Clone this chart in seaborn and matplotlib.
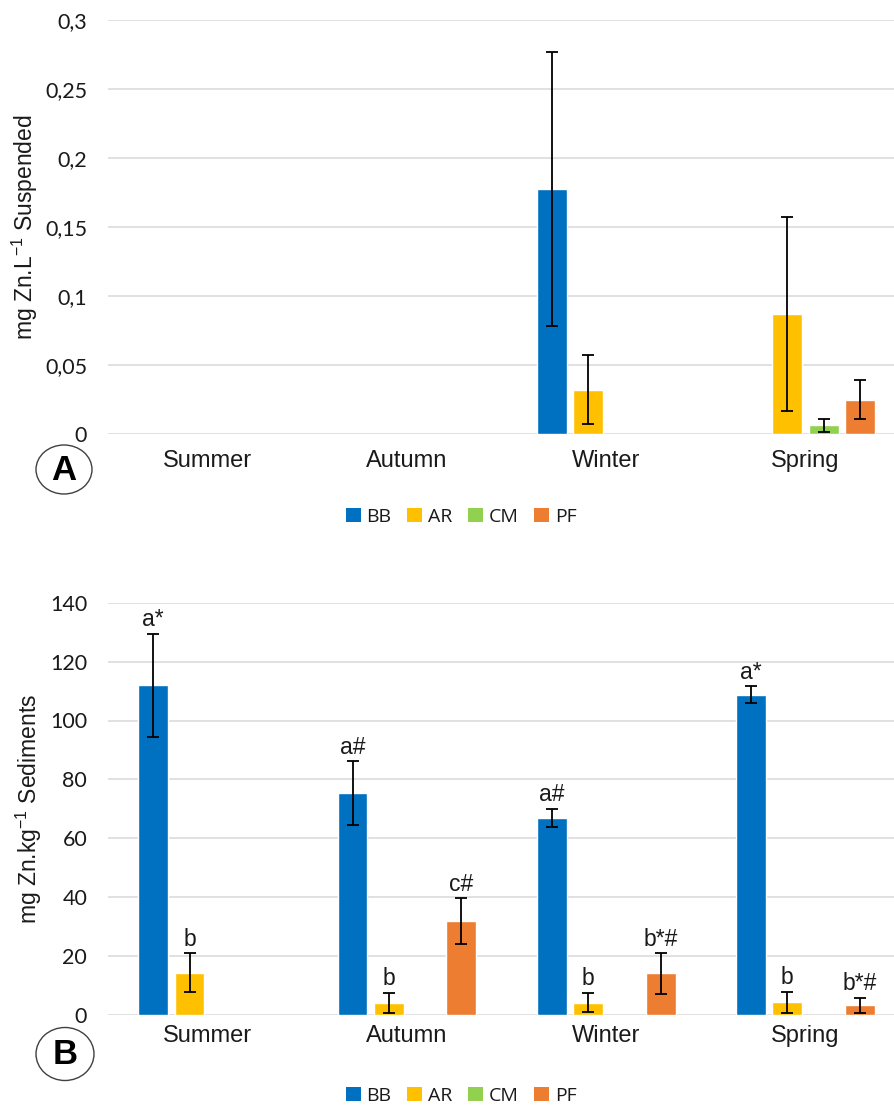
import matplotlib
matplotlib.use("Agg")
import matplotlib.pyplot as plt
from matplotlib.patches import Patch, Ellipse
import seaborn as sns
import pandas as pd
import numpy as np

# ---- data -------------------------------------------------------------
seasons = ["Summer", "Autumn", "Winter", "Spring"]
sites = ["BB", "AR", "CM", "PF"]
site_colors = ["#0070C0", "#FFC000", "#92D050", "#ED7D31"]

# Suspended zinc (mg Zn.L-1)
susp_season = ["Winter", "Winter", "Spring", "Spring", "Spring"]
susp_site = ["BB", "AR", "AR", "CM", "PF"]
susp_mean = [0.1775, 0.032, 0.087, 0.0063, 0.025]
susp_sd = [0.0995, 0.025, 0.0705, 0.0045, 0.014]

# Zinc in sediments (mg Zn.kg-1)
sed_season = ["Summer", "Summer", "Autumn", "Autumn", "Autumn",
              "Winter", "Winter", "Winter", "Spring", "Spring", "Spring"]
sed_site = ["BB", "AR", "BB", "AR", "PF", "BB", "AR", "PF", "BB", "AR", "PF"]
sed_mean = [111.9, 14.4, 75.3, 4.2, 31.9, 66.9, 4.2, 14.1, 108.8, 4.3, 3.3]
sed_sd = [17.5, 6.5, 10.8, 3.4, 7.7, 3.2, 3.3, 6.9, 2.8, 3.5, 2.5]
sed_letters = ["a*", "b", "a#", "b", "c#", "a#", "b", "b*#", "a*", "b", "b*#"]

susp_ticks = [0, 0.05, 0.1, 0.15, 0.2, 0.25, 0.3]
susp_ticklabels = ["0", "0,05", "0,1", "0,15", "0,2", "0,25", "0,3"]
sed_ticks = [0, 20, 40, 60, 80, 100, 120, 140]

# ---- style ------------------------------------------------------------
sns.set_theme(style="white")
plt.rcParams["font.family"] = ["Liberation Sans", "DejaVu Sans"]
plt.rcParams["mathtext.fontset"] = "custom"
plt.rcParams["mathtext.rm"] = "Liberation Sans"
plt.rcParams["mathtext.it"] = "Liberation Sans:italic"
plt.rcParams["mathtext.bf"] = "Liberation Sans:bold"

W, H = 894, 1106
fig = plt.figure(figsize=(W / 100, H / 100), dpi=100)
palette = dict(zip(sites, site_colors))
txt_color = "#1a1a1a"
num_font = ["Lato", "DejaVu Sans"]

slot = 0.182
group_w = slot * len(sites)
gap = 1 - 0.15 / slot
x_right = -0.5 + (W - 108) / 199.3


def make_axes(top_px, bottom_px):
    left = 108 / W
    return fig.add_axes([left, 1 - bottom_px / H, 1 - left,
                         (bottom_px - top_px) / H])


def draw_panel(ax, season, site, mean, sd, ylim, ticks, ticklabels, ylabel,
               xpad, letters=None):
    df = pd.DataFrame({"season": season, "site": site, "mean": mean, "sd": sd})
    sns.barplot(data=df, x="season", y="mean", hue="site", order=seasons,
                hue_order=sites, palette=palette, width=group_w, gap=gap,
                errorbar=None, legend=False, saturation=1, ax=ax)
    # error bars and letters, placed on the bars seaborn drew
    for p in list(ax.patches):
        xc = p.get_x() + p.get_width() / 2
        cat = int(round(xc))
        k = int(round((xc - cat) / slot + 1.5))
        m = (df["season"] == seasons[cat]) & (df["site"] == sites[k])
        if not m.any():
            continue
        i = df.index[m][0]
        ax.errorbar(xc, df.loc[i, "mean"], yerr=df.loc[i, "sd"], fmt="none",
                    ecolor="black", elinewidth=1.3, capsize=4.3,
                    capthick=1.3, zorder=4)
        if letters is not None:
            ax.annotate(letters[i], (xc, df.loc[i, "mean"] + df.loc[i, "sd"]),
                        xytext=(0, 5.5), textcoords="offset points",
                        ha="center", va="baseline", fontsize=16.5,
                        color=txt_color)
    ax.set_ylim(*ylim)
    ax.set_xlim(-0.5, x_right)
    ax.set_yticks(ticks)
    ax.set_yticklabels(ticklabels, family=num_font)
    ax.yaxis.grid(True, color="#d9d9d9", linewidth=1.1, zorder=0)
    ax.set_axisbelow(True)
    for s in ax.spines.values():
        s.set_visible(False)
    ax.tick_params(axis="y", length=0, pad=15, labelsize=15.5,
                   labelcolor=txt_color)
    ax.tick_params(axis="x", length=0, pad=xpad, labelsize=17,
                   labelcolor=txt_color)
    ax.set_xlabel("")
    ax.set_ylabel(ylabel, fontsize=16.5, color=txt_color)


axA = make_axes(20, 434)
draw_panel(axA, susp_season, susp_site, susp_mean, susp_sd, (0, 0.3),
           susp_ticks, susp_ticklabels, r"mg Zn.L$^{\mathregular{-1}}$ Suspended",
           xpad=11.5)
axA.yaxis.set_label_coords((40 - 108) / (W - 108), 0.5)

axB = make_axes(602.7, 1015)
draw_panel(axB, sed_season, sed_site, sed_mean, sed_sd, (0, 140),
           sed_ticks, [str(t) for t in sed_ticks],
           r"mg Zn.kg$^{\mathregular{-1}}$ Sediments", xpad=7.5,
           letters=sed_letters)
axB.yaxis.set_label_coords((44 - 108) / (W - 108), 0.5)

# legends under each panel
handles = [Patch(facecolor=c, edgecolor="none", label=s)
           for s, c in zip(sites, site_colors)]
for ycen in (517, 1096):
    fig.legend(handles=handles, loc="center", ncol=4, frameon=False,
               bbox_to_anchor=(461 / W, 1 - ycen / H),
               prop={"family": ["Open Sans", "DejaVu Sans"], "size": 14},
               handlelength=0.77, handleheight=0.72, handletextpad=0.3,
               columnspacing=0.8, labelcolor=txt_color)

# circled panel letters
for letter, cx, cy, w, h in (("A", 64, 469.5, 56, 49), ("B", 65, 1054, 58, 53)):
    fig.add_artist(Ellipse((cx / W, 1 - cy / H), w / W, h / H,
                           transform=fig.transFigure, facecolor="white",
                           edgecolor="#404040", linewidth=1.0))
    fig.text(cx / W, 1 - (cy + 1) / H, letter, ha="center", va="center",
             fontsize=25, fontweight="bold", color="black")

fig.savefig("out.png", dpi=100)
